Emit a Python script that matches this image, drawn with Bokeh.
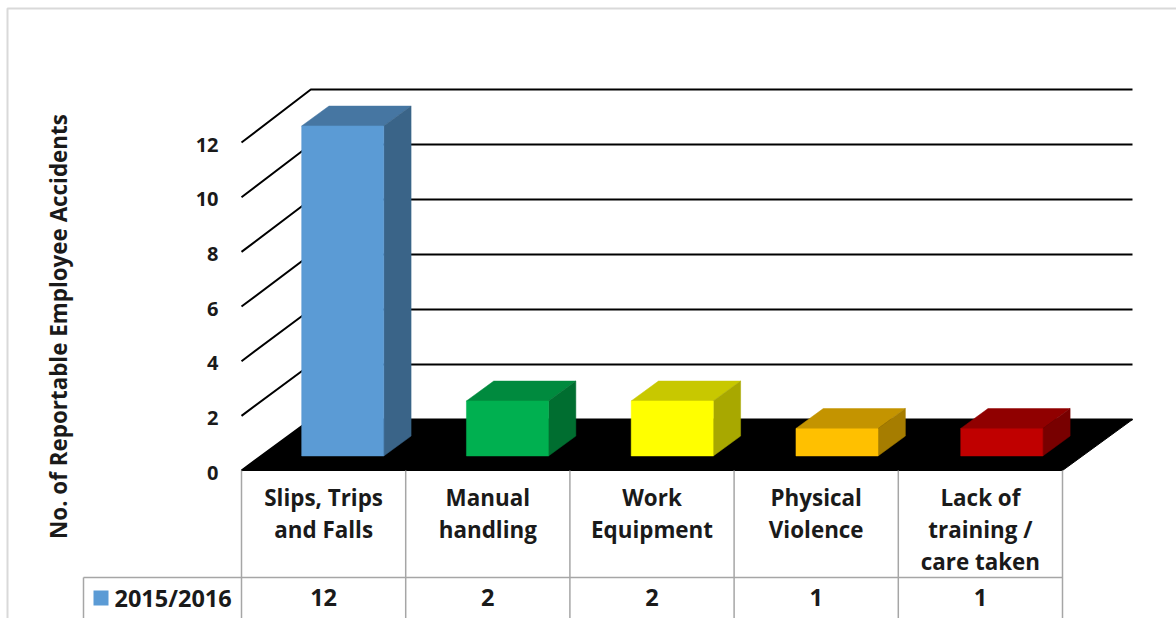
from bokeh.core.properties import value
from bokeh.embed import file_html
from bokeh.models import Range1d
from bokeh.plotting import figure
from bokeh.resources import INLINE

categories = ["Slips, Trips\nand Falls", "Manual\nhandling", "Work\nEquipment", "Physical\nViolence", "Lack of\ntraining /\ncare taken"]
series_name = "2015/2016"
accidents = [12, 2, 2, 1, 1]
y_ticks = [0, 2, 4, 6, 8, 10, 12]
y_title = "No. of Reportable Employee Accidents"
front_colors = ["#5b9bd5", "#00b050", "#ffff00", "#ffc000", "#c00000"]
top_colors = ["#4676a2", "#008a3e", "#c8c800", "#c49400", "#900000"]
side_colors = ["#3a6488", "#006e30", "#a8a800", "#a67d00", "#780000"]

W, H = 1176, 618
CAT_PX, UNIT_PX = 164.2, 27.5
X0_PX, Y0_PX = 241, 470
# Oblique projection of the floor depth, in data units per unit of depth
DEPTH_X, DEPTH_Y = 70 / CAT_PX, 51 / UNIT_PX
# The front edge of the side wall is slightly foreshortened
FRONT_SCALE = 27.33 / UNIT_PX
N = len(categories)
BAR_WIDTH = 0.5
BAR_STEP = 1.0034
BAR_D0, BAR_D1 = 0.285, 0.675

p = figure(
    width=W, height=H, output_backend="svg", toolbar_location=None,
    x_range=Range1d(-X0_PX / CAT_PX, (W - X0_PX) / CAT_PX),
    y_range=Range1d((Y0_PX - H) / UNIT_PX, Y0_PX / UNIT_PX),
    min_border=0, outline_line_color=None, background_fill_color="white",
)
p.axis.visible = False
p.grid.visible = False
# Pixel-based ranges for the surrounding frame, table and text
p.extra_x_ranges["px"] = Range1d(0, W)
p.extra_y_ranges["px"] = Range1d(H, 0)
PX = dict(x_range_name="px", y_range_name="px")
FONT = value("Open Sans")
TEXT = dict(text_font=FONT, text_font_style="bold", text_color="#1a1a1a", text_baseline="middle")
LABEL_SIZE = "22.4px"
NUMBER_SIZE = "23.5px"


def proj(x, y, d):
    """Project category x, value y and floor depth d to the chart plane."""
    return x + d * DEPTH_X, y + d * DEPTH_Y


# Outer border, open on the right
p.line([7, 7, W], [H, 8, 8], line_color="#d9d9d9", line_width=2, **PX)

# Wall grid: a diagonal on the side wall, a long line on the back wall
for t in y_ticks:
    x0, _ = proj(0, t, 0)
    x1, y1 = proj(0, t, 0.99)
    x2, y2 = proj(N, t, 1)
    p.line([x0, x1, x2], [t * FRONT_SCALE, y2, y2], line_color="black", line_width=2)

# Floor
fx, fy = zip(proj(0, 0, 0), proj(N, 0, 0), proj(N, 0, 1), proj(0, 0, 1))
p.patch(list(fx), list(fy), fill_color="black", line_color="black", line_width=1)

# Extruded bars
for i, v in enumerate(accidents):
    a = 0.495 + i * BAR_STEP - BAR_WIDTH / 2
    b = a + BAR_WIDTH
    faces = [
        ([proj(a, v, BAR_D0), proj(b, v, BAR_D0), proj(b, v, BAR_D1), proj(a, v, BAR_D1)], top_colors[i]),
        ([proj(b, 0, BAR_D0), proj(b, 0, BAR_D1), proj(b, v, BAR_D1), proj(b, v, BAR_D0)], side_colors[i]),
        ([proj(a, 0, BAR_D0), proj(b, 0, BAR_D0), proj(b, v, BAR_D0), proj(a, v, BAR_D0)], front_colors[i]),
    ]
    for pts, color in faces:
        xs, ys = zip(*pts)
        p.patch(list(xs), list(ys), fill_color=color, line_color=color, line_width=0.5)

# Value axis labels
p.text([218] * len(y_ticks), [Y0_PX + 2 - t * 27.33 for t in y_ticks], text=[str(t) for t in y_ticks],
       text_font_size="20px", text_align="right", **TEXT, **PX)
p.text([58], [326], text=[y_title], angle=1.5708, text_font_size=LABEL_SIZE, text_align="center", **TEXT, **PX)

# Data table under the chart
GRID = "#a6a6a6"
cell_edges = [X0_PX + i * CAT_PX for i in range(N + 1)]
for ex in cell_edges:
    p.line([ex, ex], [Y0_PX, H], line_color=GRID, line_width=1.5, **PX)
p.line([83, cell_edges[-1]], [577, 577], line_color=GRID, line_width=1.5, **PX)
p.line([83, 83], [577, H], line_color=GRID, line_width=1.5, **PX)

LINE_Y = [497, 529, 561]
for i, name in enumerate(categories):
    cx = X0_PX + (i + 0.5) * CAT_PX
    lines = name.split("\n")
    p.text([cx] * len(lines), LINE_Y[:len(lines)], text=lines, text_font_size=LABEL_SIZE,
           text_align="center", **TEXT, **PX)
    p.text([cx], [597], text=[str(accidents[i])], text_font_size=NUMBER_SIZE, text_align="center", **TEXT, **PX)

# Series key in the table's first column
p.quad(left=[93], right=[108], top=[590], bottom=[605], fill_color=front_colors[0], line_color=None, **PX)
p.text([114], [597], text=[series_name], text_font_size=NUMBER_SIZE, text_align="left", **TEXT, **PX)

open("out.html", "w").write(file_html(p, INLINE))
